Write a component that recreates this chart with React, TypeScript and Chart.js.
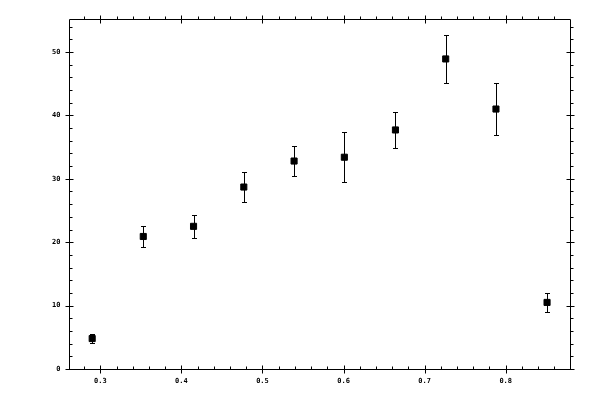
import { useEffect, useRef } from 'react';
import { Chart, registerables } from 'chart.js';
import type { Plugin } from 'chart.js';

Chart.register(...registerables);

// measured points with symmetric y errors
const xValues = [0.29, 0.353, 0.415, 0.477, 0.539, 0.601, 0.664, 0.726, 0.788, 0.851];
const yValues = [4.8, 20.9, 22.5, 28.7, 32.8, 33.4, 37.7, 48.9, 41.0, 10.5];
const yErrors = [0.65, 1.7, 1.8, 2.3, 2.3, 3.9, 2.8, 3.8, 4.1, 1.5];

const xMajorTicks = [0.3, 0.4, 0.5, 0.6, 0.7, 0.8];
const xTickLabels = ['0.3', '0.4', '0.5', '0.6', '0.7', '0.8'];
const yMajorTicks = [0, 10, 20, 30, 40, 50];
const yTickLabels = ['0', '10', '20', '30', '40', '50'];

const X_MIN = 0.2614;
const X_MAX = 0.8793;
const Y_MIN = 0;
const Y_MAX = 55.2;

const LABEL_FONT = 'bold 7px "DejaVu Sans Mono", monospace';

const errorBarPlugin: Plugin<'scatter'> = {
  id: 'errorBars',
  beforeDatasetsDraw(chart) {
    const { ctx } = chart;
    const xs = chart.scales.x;
    const ys = chart.scales.y;
    ctx.save();
    ctx.strokeStyle = '#000';
    ctx.lineWidth = 1;
    xValues.forEach((xv, i) => {
      const px = Math.round(xs.getPixelForValue(xv)) + 0.5;
      const top = Math.round(ys.getPixelForValue(yValues[i] + yErrors[i])) + 0.5;
      const bot = Math.round(ys.getPixelForValue(yValues[i] - yErrors[i])) + 0.5;
      ctx.beginPath();
      ctx.moveTo(px, top);
      ctx.lineTo(px, bot);
      ctx.moveTo(px - 2.5, top);
      ctx.lineTo(px + 2.5, top);
      ctx.moveTo(px - 2.5, bot);
      ctx.lineTo(px + 2.5, bot);
      ctx.stroke();
    });
    ctx.restore();
  },
};

const framePlugin: Plugin<'scatter'> = {
  id: 'frameAxes',
  afterDraw(chart) {
    const { ctx, chartArea } = chart;
    const xs = chart.scales.x;
    const ys = chart.scales.y;
    const l = Math.round(chartArea.left) + 0.5;
    const r = Math.round(chartArea.right) + 0.5;
    const t = Math.round(chartArea.top) + 0.5;
    const b = Math.round(chartArea.bottom) + 0.5;
    ctx.save();
    ctx.strokeStyle = '#000';
    ctx.lineWidth = 1;
    ctx.beginPath();
    ctx.rect(l, t, r - l, b - t);

    // minor ticks
    for (let k = 14; k <= 43; k++) {
      const v = k * 0.02;
      if (v < X_MIN || v > X_MAX) continue;
      const px = Math.round(xs.getPixelForValue(v)) + 0.5;
      ctx.moveTo(px, t);
      ctx.lineTo(px, t - 3);
      ctx.moveTo(px, b);
      ctx.lineTo(px, b - 3);
    }
    for (let k = 0; k <= 27; k++) {
      const v = k * 2;
      if (v < Y_MIN || v > Y_MAX) continue;
      const py = Math.round(ys.getPixelForValue(v)) + 0.5;
      ctx.moveTo(l, py);
      ctx.lineTo(l + 3, py);
      ctx.moveTo(r, py);
      ctx.lineTo(r + 3, py);
    }
    // major ticks crossing the frame
    xMajorTicks.forEach((v) => {
      const px = Math.round(xs.getPixelForValue(v)) + 0.5;
      ctx.moveTo(px, t - 4);
      ctx.lineTo(px, t + 4);
      ctx.moveTo(px, b - 4);
      ctx.lineTo(px, b + 4);
    });
    yMajorTicks.forEach((v) => {
      const py = Math.round(ys.getPixelForValue(v)) + 0.5;
      ctx.moveTo(l - 4, py);
      ctx.lineTo(l + 4, py);
      ctx.moveTo(r - 4, py);
      ctx.lineTo(r + 4, py);
    });
    ctx.stroke();

    ctx.fillStyle = '#000';
    ctx.font = LABEL_FONT;
    ctx.textAlign = 'center';
    ctx.textBaseline = 'middle';
    xMajorTicks.forEach((v, i) => {
      ctx.fillText(xTickLabels[i], xs.getPixelForValue(v), b + 12);
    });
    ctx.textAlign = 'right';
    yMajorTicks.forEach((v, i) => {
      ctx.fillText(yTickLabels[i], l - 9, ys.getPixelForValue(v));
    });
    ctx.restore();
  },
};

export default function App() {
  const canvasRef = useRef<HTMLCanvasElement | null>(null);

  useEffect(() => {
    if (!canvasRef.current) return;

    const chart = new Chart(canvasRef.current, {
      type: 'scatter',
      data: {
        datasets: [
          {
            data: xValues.map((x, i) => ({ x, y: yValues[i] })),
            pointStyle: 'rect',
            pointRadius: 4.3,
            pointBorderWidth: 1,
            pointBackgroundColor: '#000',
            pointBorderColor: '#000',
            showLine: false,
          },
        ],
      },
      options: {
        responsive: false,
        animation: false,
        layout: { padding: { left: 69, right: 30, top: 19, bottom: 31 } },
        plugins: { legend: { display: false }, tooltip: { enabled: false } },
        scales: {
          x: { type: 'linear', min: X_MIN, max: X_MAX, display: false },
          y: { type: 'linear', min: Y_MIN, max: Y_MAX, display: false },
        },
      },
      plugins: [errorBarPlugin, framePlugin],
    });

    return () => {
      chart.destroy();
    };
  }, []);

  return (
    <div style={{ position: 'absolute', left: 0, top: 0, width: 600, height: 400, background: '#fff' }}>
      <canvas ref={canvasRef} width={600} height={400} style={{ display: 'block' }} />
    </div>
  );
}
